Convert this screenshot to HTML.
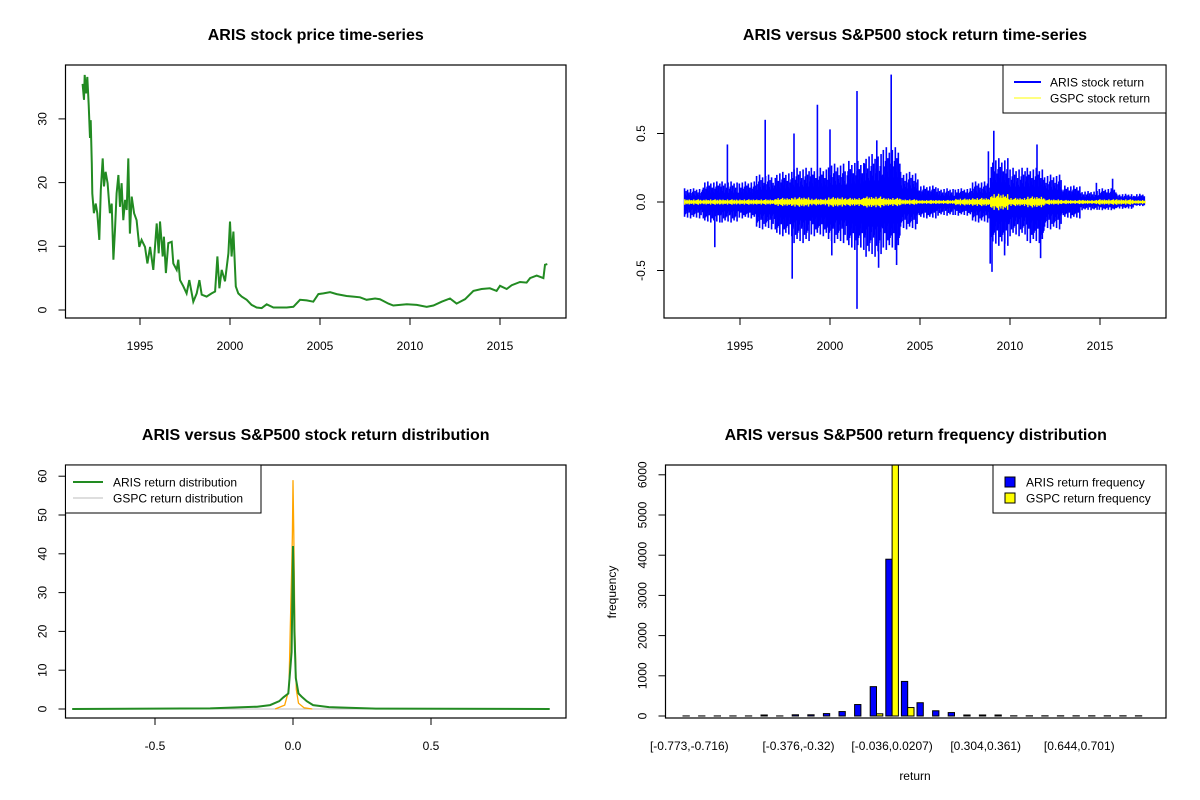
<!DOCTYPE html>
<html><head><meta charset="utf-8"><style>
html,body{margin:0;padding:0;background:#fff;}
svg{display:block;font-family:"Liberation Sans",Arial,sans-serif;}
</style></head><body>
<svg id="chart" width="1200" height="800" viewBox="0 0 1200 800"></svg>
<script>
// ---------- data ----------
const priceYears=[1991.81,1991.89,1991.93,1992.0,1992.07,1992.15,1992.22,1992.26,1992.32,1992.35,1992.44,1992.54,1992.63,1992.74,1992.82,1992.93,1993.0,1993.09,1993.2,1993.33,1993.43,1993.52,1993.61,1993.7,1993.8,1993.89,1993.98,1994.07,1994.17,1994.26,1994.35,1994.44,1994.54,1994.67,1994.81,1994.96,1995.09,1995.28,1995.41,1995.56,1995.74,1995.93,1996.04,1996.11,1996.26,1996.33,1996.44,1996.57,1996.76,1996.85,1997.04,1997.13,1997.22,1997.41,1997.59,1997.74,1997.96,1998.15,1998.3,1998.43,1998.7,1998.98,1999.17,1999.3,1999.41,1999.54,1999.72,1999.91,2000.0,2000.09,2000.19,2000.32,2000.46,2000.65,2000.93,2001.2,2001.48,2001.76,2002.04,2002.41,2003.15,2003.52,2003.89,2004.26,2004.63,2004.91,2005.19,2005.56,2005.93,2006.48,2006.85,2007.22,2007.59,2008.06,2008.33,2008.8,2009.07,2009.82,2010.37,2010.93,2011.3,2011.76,2012.22,2012.59,2013.06,2013.52,2013.98,2014.44,2014.81,2015.0,2015.37,2015.65,2016.11,2016.48,2016.67,2017.04,2017.41,2017.5,2017.63];
const priceValues=[35.5,33.0,36.9,34.0,36.6,32.2,27.0,29.8,23.0,18.3,15.2,16.7,15.2,11.0,18.8,23.8,19.4,21.7,19.9,15.2,16.7,7.9,12.6,18.3,21.2,16.2,19.9,14.1,17.3,15.7,23.8,12.0,17.8,15.2,14.1,9.9,11.0,9.9,7.3,9.9,6.3,13.6,8.9,13.9,8.4,11.5,5.8,10.5,10.7,7.3,6.3,7.9,4.7,3.7,2.6,4.7,1.3,2.6,4.7,2.4,2.1,2.6,2.9,8.4,3.4,6.3,4.5,8.9,13.9,8.4,12.3,3.7,2.6,2.1,1.6,0.8,0.4,0.3,0.9,0.4,0.4,0.5,1.6,1.5,1.3,2.5,2.6,2.8,2.5,2.2,2.1,2.0,1.6,1.8,1.7,1.0,0.7,0.9,0.8,0.5,0.7,1.3,1.8,1.0,1.7,3.0,3.3,3.4,3.0,3.8,3.3,3.9,4.4,4.3,5.0,5.4,5.0,7.1,7.2];

const retYears=[1992,1993,1994,1995,1996,1997,1998,1999,2000,2001,2002,2003,2004,2005,2006,2007,2008,2009,2010,2011,2012,2013,2014,2015,2016,2017];
const arisHi=[0.10,0.15,0.15,0.15,0.20,0.22,0.25,0.25,0.28,0.30,0.35,0.40,0.22,0.12,0.10,0.10,0.15,0.32,0.25,0.25,0.20,0.12,0.08,0.10,0.06,0.06];
const arisLo=[-0.12,-0.15,-0.15,-0.12,-0.20,-0.25,-0.30,-0.25,-0.30,-0.35,-0.40,-0.35,-0.20,-0.12,-0.10,-0.10,-0.15,-0.32,-0.25,-0.30,-0.20,-0.12,-0.06,-0.06,-0.05,-0.03];
const gspcAmp=[0.02,0.02,0.02,0.02,0.02,0.03,0.035,0.025,0.035,0.03,0.04,0.03,0.02,0.015,0.015,0.025,0.03,0.06,0.03,0.04,0.02,0.015,0.015,0.02,0.02,0.015];
const spikeYears=[2003.4,2001.5,2001.5,1999.3,1996.4,1994.3,1997.9,1993.6,2009.1,2009.0,2002.7,2003.7,2011.7,2011.5,2000.0,1998.0,2002.6,2015.7,2009.7,2000.1,2014.8,2008.8,2008.9];
const spikeValues=[0.93,0.81,-0.78,0.71,0.60,0.42,-0.56,-0.33,0.52,-0.51,-0.48,-0.46,-0.41,0.42,0.53,0.50,0.45,0.17,-0.39,-0.39,0.14,0.37,-0.45];

const densX=[-0.8,-0.3,-0.2,-0.13,-0.083,-0.05,-0.035,-0.017,-0.01,-0.005,-0.002,0.0,0.002,0.005,0.01,0.02,0.031,0.05,0.073,0.13,0.2,0.3,0.93];
const arisDens=[0,0.15,0.4,0.6,1.0,2.0,3.0,4.0,10,14.7,30,42,35,20,8,4,3.2,2.0,1.0,0.5,0.3,0.1,0];
const gspcX=[-0.065,-0.03,-0.015,-0.01,-0.005,-0.002,0.0,0.003,0.007,0.012,0.02,0.04,0.07];
const gspcDens=[0,1,5,20,35,45,59,45,20,5,1.5,0.3,0];

const binLabels=["[-0.773,-0.716)","[-0.376,-0.32)","[-0.036,0.0207)","[0.304,0.361)","[0.644,0.701)"];
const binLabelIdx=[0,7,13,19,25];
const arisFreq=[2,2,2,2,2,25,2,30,30,60,110,285,730,3900,860,330,130,85,25,25,25,5,5,5,5,5,5,5,5,5];
const gspcFreq=[0,0,0,0,0,0,0,0,0,0,0,0,55,6500,210,0,0,0,0,0,0,0,0,0,0,0];

// ---------- helpers ----------
const NS="http://www.w3.org/2000/svg";
const svg=document.getElementById('chart');
function mk(tag,attrs,parent){const e=document.createElementNS(NS,tag);for(const k in attrs)e.setAttribute(k,attrs[k]);(parent||svg).appendChild(e);return e;}
function txt(s,x,y,size,attrs,parent){const t=mk('text',Object.assign({x:x,y:y,'font-size':size,'text-anchor':'middle',fill:'#000'},attrs||{}),parent);t.textContent=s;return t;}

function panel(name,x0,y0,x1,y1,title){
  const g=mk('g',{});
  
  
  const t=txt(title,(x0+x1)/2,40+(y0-65),16,{'font-weight':'bold'},g);
  
  
  const cp=mk('clipPath',{id:name+'-clip'},g);
  mk('rect',{x:x0,y:y0,width:x1-x0,height:y1-y0},cp);
  return g;
}
function frame(g,name,x0,y0,x1,y1){
  const r=mk('rect',{x:x0,y:y0,width:x1-x0,height:y1-y0,fill:'none',stroke:'#000','stroke-width':1.2},g);
  
  
}
function xtick(g,x,yb,label){
  mk('line',{x1:x,y1:yb,x2:x,y2:yb+7,stroke:'#000','stroke-width':1},g);
  const t=txt(label,x,yb+32,12,{},g);
  
  
}
function ytick(g,xl,y,label){
  mk('line',{x1:xl,y1:y,x2:xl-7,y2:y,stroke:'#000','stroke-width':1},g);
  const t=txt(label,xl-23,y,12,{transform:`rotate(-90 ${xl-19} ${y})`,x:xl-19},g);
  
  
}

// ---------- Panel 1: price ----------
(function(){
  const X0=65.5,Y0=65,X1=566,Y1=318;
  const g=panel('price-panel',X0,Y0,X1,Y1,'ARIS stock price time-series');
  const xs=yr=>140+(yr-1995)*18, ys=v=>310-v*6.37;
  let d='';
  priceYears.forEach((yr,i)=>{d+=(i?'L':'M')+xs(yr).toFixed(1)+','+ys(priceValues[i]).toFixed(1);});
  const p=mk('path',{d:d,fill:'none',stroke:'#228B22','stroke-width':2,'stroke-linejoin':'miter'},g);
  
  
  frame(g,'price',X0,Y0,X1,Y1);
  [1995,2000,2005,2010,2015].forEach(v=>xtick(g,xs(v),Y1,String(v)));
  [0,10,20,30].forEach(v=>ytick(g,X0,ys(v),String(v)));
})();

// ---------- Panel 2: returns ----------
(function(){
  const X0=664,Y0=65,X1=1166,Y1=318;
  const g=panel('returns-panel',X0,Y0,X1,Y1,'ARIS versus S&P500 stock return time-series');
  const xs=yr=>740+(yr-1995)*18, ys=v=>202-v*137;
  const gA=mk('g',{stroke:'#0000FF','stroke-width':1.6},g);
  
  
  const pat=[1,0.55,0.8,0.45,0.9,0.6,0.7,0.5,0.95,0.4,0.65,0.75];
  retYears.forEach((yr,i)=>{
    const start=yr-0.1, end=Math.min(yr+0.9,2017.5);
    mk('rect',{x:xs(start),y:ys(arisHi[i]*0.45),width:xs(end)-xs(start),height:ys(arisLo[i]*0.45)-ys(arisHi[i]*0.45),fill:'#0000FF',stroke:'none'},gA);
    const n=Math.round((end-start)*24);
    for(let k=0;k<n;k++){
      const yy=start+(k+0.5)/24, f=pat[(k+i*5)%pat.length], f2=pat[(k*7+i*3+4)%pat.length];
      mk('line',{x1:xs(yy),x2:xs(yy),y1:ys(arisHi[i]*f),y2:ys(arisLo[i]*f2)},gA);
    }
  });
  spikeYears.forEach((yr,i)=>{mk('line',{x1:xs(yr),x2:xs(yr),y1:ys(0),y2:ys(spikeValues[i])},gA);});
  const gG=mk('g',{stroke:'#FFFF00','stroke-width':1.4},g);
  
  
  retYears.forEach((yr,i)=>{
    const start=yr-0.1, end=Math.min(yr+0.9,2017.5);
    mk('rect',{x:xs(start),y:ys(gspcAmp[i]*0.5),width:xs(end)-xs(start),height:ys(-gspcAmp[i]*0.5)-ys(gspcAmp[i]*0.5),fill:'#FFFF00',stroke:'none'},gG);
    const n=Math.round((end-start)*16);
    for(let k=0;k<n;k++){const yy=start+(k+0.5)/16,f=pat[(k+i)%pat.length];
      mk('line',{x1:xs(yy),x2:xs(yy),y1:ys(gspcAmp[i]*f),y2:ys(-gspcAmp[i]*f)},gG);}
  });
  frame(g,'returns',X0,Y0,X1,Y1);
  [1995,2000,2005,2010,2015].forEach(v=>xtick(g,xs(v),Y1,String(v)));
  [[-0.5,'-0.5'],[0,'0.0'],[0.5,'0.5']].forEach(v=>ytick(g,X0,ys(v[0]),v[1]));
  const lg=mk('g',{},g);
  
  
  mk('rect',{x:1003,y:65,width:163,height:48,fill:'#fff',stroke:'#000','stroke-width':1},lg);
  mk('line',{x1:1014,x2:1041,y1:82,y2:82,stroke:'#0000FF','stroke-width':2},lg);
  mk('line',{x1:1014,x2:1041,y1:98,y2:98,stroke:'#FFFF00','stroke-width':1},lg);
  txt('ARIS stock return',1050,86.5,12,{'text-anchor':'start'},lg);
  txt('GSPC stock return',1050,102.5,12,{'text-anchor':'start'},lg);
})();

// ---------- Panel 3: density ----------
(function(){
  const X0=65.5,Y0=465,X1=566,Y1=718;
  const g=panel('density-panel',X0,Y0,X1,Y1,'ARIS versus S&P500 stock return distribution');
  const xs=v=>293+v*276, ys=d=>709-d*3.88;
  mk('line',{x1:xs(-0.8),x2:xs(0.93),y1:ys(0),y2:ys(0),stroke:'#BEBEBE','stroke-width':1},g);
  let d='';gspcX.forEach((v,i)=>{d+=(i?'L':'M')+xs(v).toFixed(1)+','+ys(gspcDens[i]).toFixed(1);});
  const po=mk('path',{d:d,fill:'none',stroke:'#FFA500','stroke-width':1.3},g);
  
  
  d='';densX.forEach((v,i)=>{d+=(i?'L':'M')+xs(v).toFixed(1)+','+ys(arisDens[i]).toFixed(1);});
  const pg=mk('path',{d:d,fill:'none',stroke:'#228B22','stroke-width':2},g);
  
  
  frame(g,'density',X0,Y0,X1,Y1);
  [[-0.5,'-0.5'],[0,'0.0'],[0.5,'0.5']].forEach(v=>xtick(g,xs(v[0]),Y1,v[1]));
  [0,10,20,30,40,50,60].forEach(v=>ytick(g,X0,ys(v),String(v)));
  const lg=mk('g',{},g);
  
  
  mk('rect',{x:65.5,y:465,width:195.5,height:48,fill:'#fff',stroke:'#000','stroke-width':1},lg);
  mk('line',{x1:73,x2:103,y1:482,y2:482,stroke:'#228B22','stroke-width':2},lg);
  mk('line',{x1:73,x2:103,y1:498,y2:498,stroke:'#BEBEBE','stroke-width':1},lg);
  txt('ARIS return distribution',113,486.5,12,{'text-anchor':'start'},lg);
  txt('GSPC return distribution',113,502.5,12,{'text-anchor':'start'},lg);
})();

// ---------- Panel 4: histogram ----------
(function(){
  const X0=665.5,Y0=465,X1=1166,Y1=718;
  const g=panel('histogram-panel',X0,Y0,X1,Y1,'ARIS versus S&P500 return frequency distribution');
  const gl=i=>683+i*15.6, ys=c=>716-c*0.0402, bw=6.3;
  const bars=mk('g',{'clip-path':'url(#histogram-panel-clip)'},g);
  arisFreq.forEach((c,i)=>{
    const r=mk('rect',{x:gl(i),y:ys(c),width:bw,height:ys(0)-ys(c),fill:'#0000FF',stroke:'#000','stroke-width':1},bars);
    
    
    const gc=gspcFreq[i]||0;
    const r2=mk('rect',{x:gl(i)+bw,y:ys(gc),width:bw,height:ys(0)-ys(gc),fill:'#FFFF00',stroke:'#000','stroke-width':1},bars);
    
    
  });
  frame(g,'histogram',X0,Y0,X1,Y1);
  [0,1000,2000,3000,4000,5000,6000].forEach(v=>ytick(g,X0,ys(v),String(v)));
  binLabelIdx.forEach((idx,k)=>{
    const t=txt(binLabels[k],gl(idx)+bw,750,12,{},g);
    
    
  });
  const xl=txt('return',915,780,12,{},g);
  
  
  const yl=txt('frequency',616,592,12,{transform:'rotate(-90 616 592)'},g);
  
  
  const lg=mk('g',{},g);
  
  
  mk('rect',{x:993,y:465,width:173,height:48,fill:'#fff',stroke:'#000','stroke-width':1},lg);
  mk('rect',{x:1005,y:477,width:10,height:10,fill:'#0000FF',stroke:'#000','stroke-width':1},lg);
  mk('rect',{x:1005,y:493,width:10,height:10,fill:'#FFFF00',stroke:'#000','stroke-width':1},lg);
  txt('ARIS return frequency',1026,486.5,12,{'text-anchor':'start'},lg);
  txt('GSPC return frequency',1026,502.5,12,{'text-anchor':'start'},lg);
})();
</script>
</body></html>
